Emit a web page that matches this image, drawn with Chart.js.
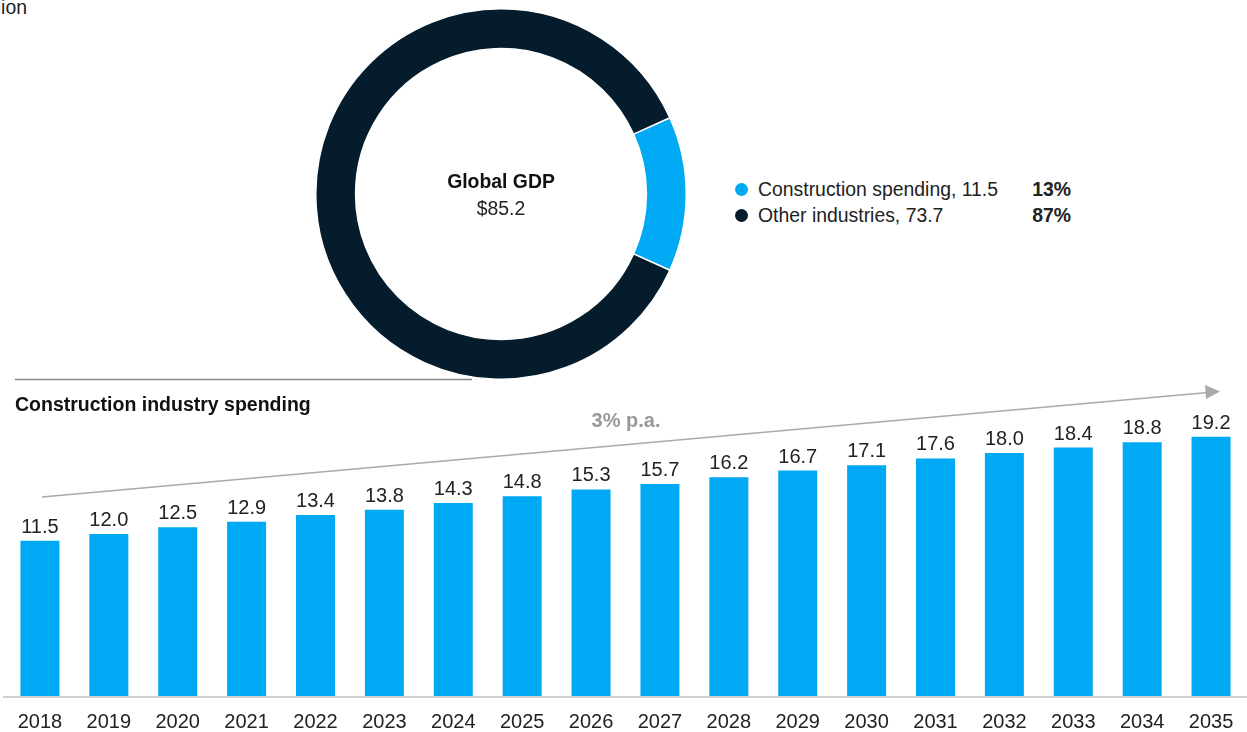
<!DOCTYPE html>
<html>
<head>
<meta charset="utf-8">
<script src="https://cdn.jsdelivr.net/npm/chart.js@4"></script>
<style>
  body { margin: 0; width: 1247px; height: 732px; overflow: hidden; background: #fff; font-family: "Liberation Sans", Arial, sans-serif; }
  #donutWrap { position: absolute; left: 315px; top: 8px; width: 372px; height: 372px; }
  #barWrap { position: absolute; left: 0; top: 370px; width: 1247px; height: 362px; }
  .legend { position: absolute; left: 734px; font-size: 19.4px; color: #222; }
  .legend .dot { position: absolute; left: 1px; top: 5px; width: 13px; height: 13px; border-radius: 50%; }
  .legend .lbl { position: absolute; left: 24px; white-space: nowrap; }
  .legend .pct { position: absolute; left: 250px; width: 87px; text-align: right; font-weight: bold; }
  #unit { position: absolute; right: 1220px; top: -4px; font-size: 19.4px; color: #222; white-space: nowrap; }
</style>
</head>
<body>
<div id="unit">$ trillion</div>
<div id="donutWrap"><canvas id="donutChart"></canvas></div>
<div id="barWrap"><canvas id="barChart"></canvas></div>
<div class="legend" style="top:178px;"><span class="dot" style="background:#00A9F4"></span><span class="lbl">Construction spending, 11.5</span><span class="pct">13%</span></div>
<div class="legend" style="top:204px;"><span class="dot" style="background:#051C2C"></span><span class="lbl">Other industries, 73.7</span><span class="pct">87%</span></div>
<script>
// donut data
const shareLabels = ['Construction spending', 'Other industries'];
const shareValues = [11.5, 73.7];
const shareColors = ['#00A9F4', '#051C2C'];

// bar data
const years = ['2018', '2019', '2020', '2021', '2022', '2023', '2024', '2025', '2026', '2027', '2028', '2029', '2030', '2031', '2032', '2033', '2034', '2035'];
const spending = [11.5, 12.0, 12.5, 12.9, 13.4, 13.8, 14.3, 14.8, 15.3, 15.7, 16.2, 16.7, 17.1, 17.6, 18.0, 18.4, 18.8, 19.2];

const FONT = '"Liberation Sans", Arial, sans-serif';
const constructionAngle = shareValues[0] / (shareValues[0] + shareValues[1]) * 360;

// center label
const centerText = {
    id: 'centerText',
    afterDraw(chart) {
        const { ctx } = chart;
        const meta = chart.getDatasetMeta(0).data[0];
        ctx.save();
        ctx.textAlign = 'center';
        ctx.fillStyle = '#111';
        ctx.font = 'bold 19.4px ' + FONT;
        ctx.fillText('Global GDP', meta.x, meta.y - 6);
        ctx.fillStyle = '#222';
        ctx.font = '19.4px ' + FONT;
        ctx.fillText('$85.2', meta.x, meta.y + 21);
        ctx.restore();
    }
};

new Chart(document.getElementById('donutChart'), {
    type: 'doughnut',
    data: {
        labels: shareLabels,
        datasets: [{ data: shareValues, backgroundColor: shareColors, borderColor: '#fff', borderWidth: 1.5 }]
    },
    options: {
        responsive: true, maintainAspectRatio: false, animation: false,
        cutout: '78.5%',
        rotation: 90 - constructionAngle / 2,
        plugins: { legend: { display: false }, tooltip: { enabled: false } }
    },
    plugins: [centerText]
});

// labels, years, baseline, title, arrow
const barDecor = {
    id: 'barDecor',
    afterDraw(chart) {
        const { ctx, chartArea } = chart;
        const xs = chart.scales.x, ys = chart.scales.y;
        ctx.save();
        // top separator + title
        ctx.strokeStyle = '#888';
        ctx.lineWidth = 1.5;
        ctx.beginPath(); ctx.moveTo(15, 9.5); ctx.lineTo(472, 9.5); ctx.stroke();
        ctx.fillStyle = '#111';
        ctx.font = 'bold 19.5px ' + FONT;
        ctx.textAlign = 'left';
        ctx.fillText('Construction industry spending', 15, 41);

        // baseline
        ctx.strokeStyle = '#d0d0d0';
        ctx.lineWidth = 2;
        ctx.beginPath(); ctx.moveTo(3, chartArea.bottom + 1); ctx.lineTo(1247, chartArea.bottom + 1); ctx.stroke();

        // value labels and years
        ctx.textAlign = 'center';
        ctx.fillStyle = '#222';
        ctx.font = '20px ' + FONT;
        spending.forEach((v, i) => {
            const x = xs.getPixelForValue(i);
            ctx.fillText(v.toFixed(1), x, ys.getPixelForValue(v) - 8);
            ctx.fillText(years[i], x, chartArea.bottom + 32);
        });

        // growth arrow
        ctx.strokeStyle = '#aaa';
        ctx.fillStyle = '#aaa';
        ctx.lineWidth = 1.5;
        ctx.beginPath(); ctx.moveTo(42, 127); ctx.lineTo(1208, 22.5); ctx.stroke();
        ctx.beginPath();
        ctx.moveTo(1220, 21.5); ctx.lineTo(1205, 15); ctx.lineTo(1206, 29); ctx.closePath(); ctx.fill();
        ctx.fillStyle = '#999';
        ctx.font = 'bold 20px ' + FONT;
        ctx.fillText('3% p.a.', 626, 57);
        ctx.restore();
    }
};

new Chart(document.getElementById('barChart'), {
    type: 'bar',
    data: {
        labels: years,
        datasets: [{ data: spending, backgroundColor: '#00A9F4', categoryPercentage: 1, barPercentage: 0.566 }]
    },
    options: {
        responsive: true, maintainAspectRatio: false, animation: false,
        layout: { padding: { left: 5.5, right: 1.5, top: 56, bottom: 36 } },
        scales: {
            x: { display: false },
            y: { display: false, min: 0, max: 20 }
        },
        plugins: { legend: { display: false }, tooltip: { enabled: false } }
    },
    plugins: [barDecor]
});
</script>
</body>
</html>
